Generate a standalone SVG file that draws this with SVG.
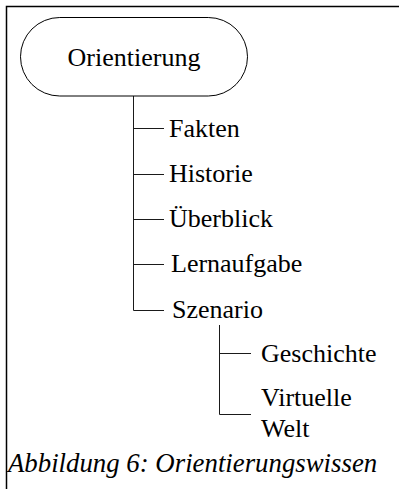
<svg xmlns="http://www.w3.org/2000/svg" width="399" height="489" viewBox="0 0 399 489">
  <style>
    .frame { fill: none; stroke: #000; stroke-width: 1.5; }
    .pill { fill: #fff; stroke: #000; stroke-width: 1; }
    .line { fill: none; stroke: #1a1a1a; stroke-width: 1; }
    .t { font-family: "Liberation Serif", "Times New Roman", "DejaVu Serif", serif; font-size: 26px; fill: #000; }
    .caption { font-style: italic; font-size: 26.8px; }
  </style>
  <rect width="399" height="489" fill="#fff"/>

  <!-- figure frame: top and left edges only -->
  <path class="frame" d="M6.5,489 V6.5 H399"/>

  <!-- connectors of the tree -->
  <g id="connectors">
    <path class="line" d="M133.5,96 V310.5"/>
    <path class="line" d="M133.5,128.5 H164"/>
    <path class="line" d="M133.5,174.5 H164"/>
    <path class="line" d="M133.5,219.5 H164"/>
    <path class="line" d="M133.5,264.5 H164"/>
    <path class="line" d="M133.5,310.5 H164"/>
    <path class="line" d="M219.5,325 V414.5 H251"/>
    <path class="line" d="M219.5,353.5 H251"/>
  </g>

  <g id="orientierung">
    <rect class="pill" x="20.5" y="17.5" width="227" height="78.5" rx="39.25"/>
    <text class="t" x="134" y="66" text-anchor="middle">Orientierung</text>
  </g>
  <g id="fakten"><text class="t" x="169" y="137">Fakten</text></g>
  <g id="historie"><text class="t" x="169" y="182">Historie</text></g>
  <g id="ueberblick"><text class="t" x="169" y="227">Überblick</text></g>
  <g id="lernaufgabe"><text class="t" x="171" y="272">Lernaufgabe</text></g>
  <g id="szenario"><text class="t" x="172" y="318">Szenario</text></g>
  <g id="geschichte"><text class="t" x="261" y="362">Geschichte</text></g>
  <g id="virtuelle-welt">
    <text class="t" x="261" y="406">Virtuelle</text>
    <text class="t" x="261" y="437">Welt</text>
  </g>

  <text class="t caption" x="8" y="472">Abbildung 6: Orientierungswissen</text>
</svg>
